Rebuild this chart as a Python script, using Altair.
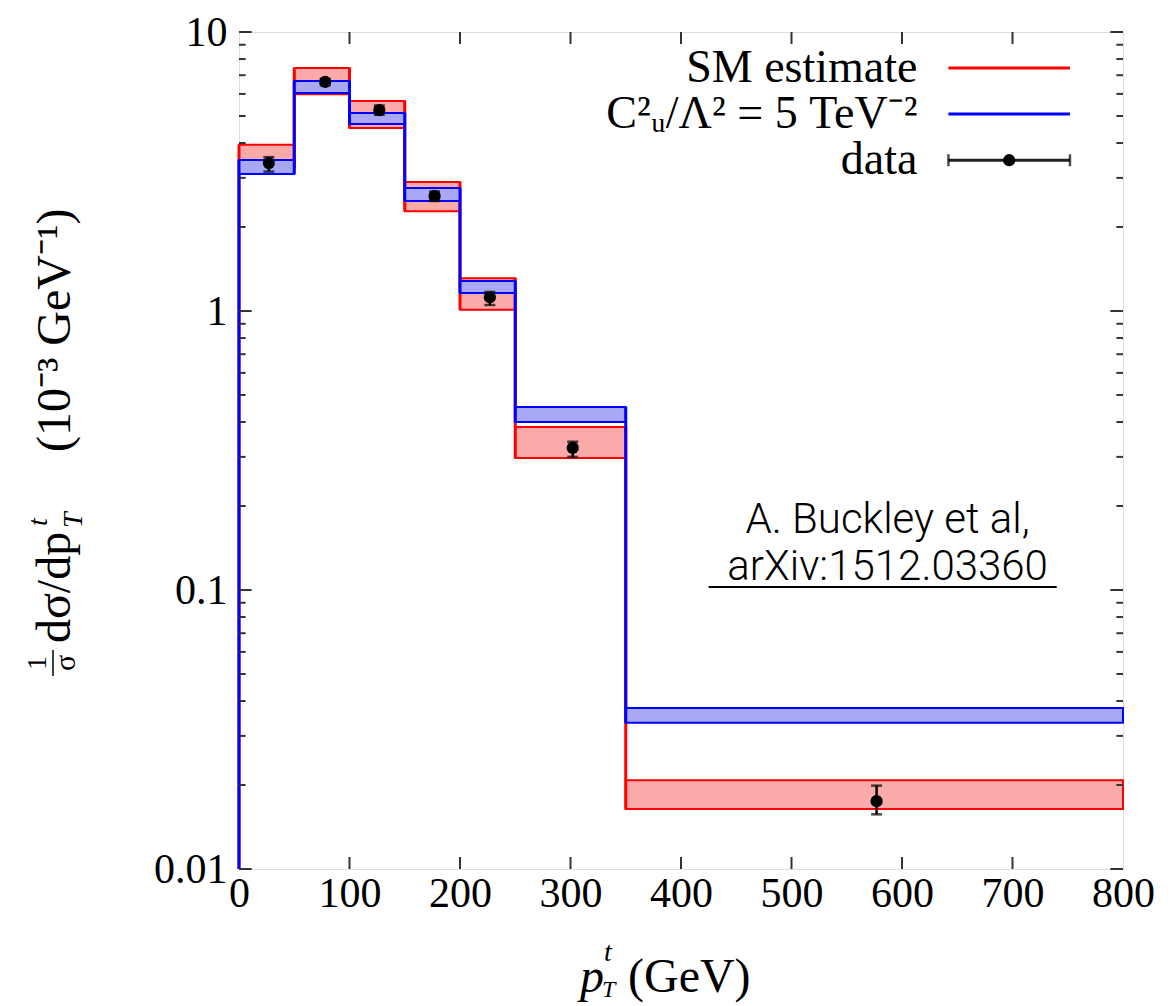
import altair as alt
import pandas as pd

# ---------------- data ----------------
bin_lo = [0, 50, 100, 150, 200, 250, 350]
bin_hi = [50, 100, 150, 200, 250, 350, 800]
sm_lower = [3.25, 5.98, 4.53, 2.28, 1.01, 0.297, 0.0164]
sm_upper = [3.94, 7.43, 5.66, 2.90, 1.31, 0.384, 0.0208]
bsm_lower = [3.10, 6.05, 4.68, 2.48, 1.16, 0.400, 0.0334]
bsm_upper = [3.48, 6.67, 5.13, 2.76, 1.28, 0.453, 0.0378]
data_x = [27, 78, 127, 177, 227, 302, 577]
data_y = [3.39, 6.62, 5.25, 2.58, 1.12, 0.323, 0.0175]
data_lo = [3.16, 6.45, 5.05, 2.48, 1.05, 0.300, 0.0157]
data_hi = [3.56, 6.80, 5.45, 2.68, 1.17, 0.340, 0.0199]

x_ticks = [0, 100, 200, 300, 400, 500, 600, 700, 800]
y_major = [0.01, 0.1, 1, 10]
y_minor = [m * d for d in [0.01, 0.1, 1] for m in range(2, 10)]

legend_labels = ["SM estimate", "C²ᵤ/Λ² = 5 TeV⁻²", "data"]
legend_y = [7.43, 5.08, 3.47]

RED = "#ff0000"
BLUE = "#0000ff"
RED_FILL = "#fbaaaa"
BLUE_FILL = "#a8a8f6"
SERIF = "Liberation Serif"

W, H = 884, 837
XMIN, XMAX = 0, 800
YMIN, YMAX = 0.01, 10

xs = alt.Scale(domain=[XMIN, XMAX], nice=False, zero=False)
ys = alt.Scale(type="log", domain=[YMIN, YMAX], nice=False)


def bands(lower, upper):
    return pd.DataFrame({"x1": bin_lo, "x2": bin_hi, "lo": lower, "hi": upper})


def steps(lower, upper):
    rows = [{"x": 0, "a": YMIN, "b": upper[0]}]
    for i in range(1, len(bin_lo)):
        rows.append({"x": bin_lo[i], "a": min(lower[i - 1], lower[i]),
                     "b": max(upper[i - 1], upper[i])})
    return pd.DataFrame(rows)


def band_layer(df, fill, stroke):
    return alt.Chart(df).mark_rect(fill=fill, stroke=stroke, strokeWidth=2).encode(
        x=alt.X("x1:Q", scale=xs), x2="x2:Q",
        y=alt.Y("lo:Q", scale=ys), y2="hi:Q")


def step_layer(df, color):
    return alt.Chart(df).mark_rule(color=color, strokeWidth=3).encode(
        x=alt.X("x:Q", scale=xs), y=alt.Y("a:Q", scale=ys), y2="b:Q")


# base chart carrying the axes
axis_df = pd.DataFrame({"x": [XMIN, XMAX], "y": [YMIN, YMAX]})
base = alt.Chart(axis_df).mark_point(opacity=0).encode(
    x=alt.X("x:Q", scale=xs, title=None,
            axis=alt.Axis(values=x_ticks, format="d", ticks=False, tickSize=0,
                          domain=False, grid=False, labelPadding=4, labelFlush=False,
                          labelFont=SERIF, labelFontSize=42, labelColor="black")),
    y=alt.Y("y:Q", scale=ys, title=None,
            axis=alt.Axis(values=y_major, format="~g", ticks=False, tickSize=0,
                          domain=False, grid=False, labelPadding=12, labelFlush=False,
                          labelFont=SERIF, labelFontSize=42, labelColor="black")),
)

# inward tick marks on all four sides
tick_rows = []
xmaj = 11.5  # GeV
xmin_len = 6.0
for v in y_major:
    tick_rows.append({"x": XMIN, "x2": XMIN + xmaj, "y": v})
    tick_rows.append({"x": XMAX - xmaj, "x2": XMAX, "y": v})
for v in y_minor:
    tick_rows.append({"x": XMIN, "x2": XMIN + xmin_len, "y": v})
    tick_rows.append({"x": XMAX - xmin_len, "x2": XMAX, "y": v})
ytick_df = pd.DataFrame(tick_rows)
yticks = alt.Chart(ytick_df).mark_rule(color="#333333", strokeWidth=2).encode(
    x=alt.X("x:Q", scale=xs), x2="x2:Q", y=alt.Y("y:Q", scale=ys))

fac = 10 ** (12 / 279)
xt_rows = []
for v in x_ticks[1:-1]:
    xt_rows.append({"x": v, "a": YMIN, "b": YMIN * fac})
    xt_rows.append({"x": v, "a": YMAX / fac, "b": YMAX})
xtick_df = pd.DataFrame(xt_rows)
xticks = alt.Chart(xtick_df).mark_rule(color="#333333", strokeWidth=2).encode(
    x=alt.X("x:Q", scale=xs), y=alt.Y("a:Q", scale=ys), y2="b:Q")

# data points with error bars
pts_df = pd.DataFrame({"x": data_x, "y": data_y, "lo": data_lo, "hi": data_hi})
err = alt.Chart(pts_df).mark_rule(color="black", strokeWidth=2.5).encode(
    x=alt.X("x:Q", scale=xs), y=alt.Y("lo:Q", scale=ys), y2="hi:Q")
cap_lo = alt.Chart(pts_df).mark_tick(color="black", orient="horizontal", size=11, thickness=2.5).encode(
    x=alt.X("x:Q", scale=xs), y=alt.Y("lo:Q", scale=ys))
cap_hi = alt.Chart(pts_df).mark_tick(color="black", orient="horizontal", size=11, thickness=2.5).encode(
    x=alt.X("x:Q", scale=xs), y=alt.Y("hi:Q", scale=ys))
dots = alt.Chart(pts_df).mark_point(filled=True, color="black", size=150, opacity=1).encode(
    x=alt.X("x:Q", scale=xs), y=alt.Y("y:Q", scale=ys))

# legend (inside, top right)
leg_text_df = pd.DataFrame({"x": [614] * 3, "y": legend_y, "t": legend_labels})
leg_text = alt.Chart(leg_text_df).mark_text(
    align="right", baseline="middle", font=SERIF, fontSize=46, color="black").encode(
    x=alt.X("x:Q", scale=xs), y=alt.Y("y:Q", scale=ys), text="t:N")
leg_line_df = pd.DataFrame({"x": [642, 642, 642], "x2": [752, 752, 752], "y": legend_y,
                            "c": ["sm", "bsm", "data"]})
leg_lines = alt.Chart(leg_line_df).mark_rule(strokeWidth=3).encode(
    x=alt.X("x:Q", scale=xs), x2="x2:Q", y=alt.Y("y:Q", scale=ys),
    color=alt.Color("c:N", scale=alt.Scale(domain=["sm", "bsm", "data"], range=[RED, BLUE, "#222222"]),
                    legend=None))
leg_caps_df = pd.DataFrame({"x": [642, 752], "y": [legend_y[2]] * 2})
leg_caps = alt.Chart(leg_caps_df).mark_tick(color="black", orient="vertical", size=12, thickness=2.5).encode(
    x=alt.X("x:Q", scale=xs), y=alt.Y("y:Q", scale=ys))
leg_dot = alt.Chart(pd.DataFrame({"x": [697], "y": [legend_y[2]]})).mark_point(
    filled=True, color="black", size=150, opacity=1).encode(
    x=alt.X("x:Q", scale=xs), y=alt.Y("y:Q", scale=ys))

# annotation
ann_df = pd.DataFrame({"x": [587, 587], "y": [0.160, 0.1086],
                       "t": ["A. Buckley et al,", "arXiv:1512.03360"]})
ann = alt.Chart(ann_df).mark_text(
    align="center", baseline="alphabetic", font="Roboto", fontWeight=300, fontSize=42,
    color="black").encode(x=alt.X("x:Q", scale=xs), y=alt.Y("y:Q", scale=ys), text="t:N")
ann_ul = alt.Chart(pd.DataFrame({"x": [425], "x2": [740], "y": [0.1025]})).mark_rule(
    color="black", strokeWidth=2).encode(x=alt.X("x:Q", scale=xs), x2="x2:Q", y=alt.Y("y:Q", scale=ys))


# axis titles composed from pieces (pixel positions relative to plot origin)
def txt(s, x, y, size, angle=0, italic=False, align="left"):
    return alt.Chart(pd.DataFrame({"t": [s]})).mark_text(
        align=align, baseline="alphabetic", font=SERIF, fontSize=size, angle=angle,
        fontStyle="italic" if italic else "normal", color="black").encode(
        x=alt.value(x), y=alt.value(y), text="t:N")


ox, oy = 239, 32
xtitle = [
    txt("p", 580 - ox, 992 - oy, 48, italic=True),
    txt("t", 604 - ox, 961 - oy, 28, italic=True),
    txt("T", 602 - ox, 997 - oy, 24, italic=True),
    txt("(GeV)", 628 - ox, 992 - oy, 48),
]
ytitle = [
    txt("1", 46 - ox, 663 - oy, 28, angle=270, align="center"),
    txt("σ", 75 - ox, 663 - oy, 30, angle=270, align="center"),
    txt("dσ/dp", 70 - ox, 643 - oy, 48, angle=270),
    txt("t", 47 - ox, 526 - oy, 28, angle=270, italic=True),
    txt("T", 82 - ox, 528 - oy, 28, angle=270, italic=True),
    txt("(10⁻³ GeV⁻¹)", 70 - ox, 452 - oy, 48, angle=270),
]
frac_bar = alt.Chart(pd.DataFrame({"a": [0]})).mark_rule(color="black", strokeWidth=1.5).encode(
    x=alt.value(53 - ox), y=alt.value(650 - oy), y2=alt.value(676 - oy))

layers = [base,
          band_layer(bands(sm_lower, sm_upper), RED_FILL, RED),
          step_layer(steps(sm_lower, sm_upper), RED),
          band_layer(bands(bsm_lower, bsm_upper), BLUE_FILL, BLUE),
          step_layer(steps(bsm_lower, bsm_upper), BLUE),
          yticks, xticks,
          err, cap_lo, cap_hi, dots,
          leg_lines, leg_caps, leg_dot, leg_text,
          ann, ann_ul, frac_bar] + xtitle + ytitle

chart = alt.layer(*layers).properties(
    width=W, height=H,
    autosize=alt.AutoSizeParams(type="none"),
    padding={"left": 239, "top": 32, "right": 50, "bottom": 137},
).configure_view(stroke="#222222", strokeWidth=2.5).configure(background="white")

chart.save("out.html", embed_options={"renderer": "svg", "actions": False})
